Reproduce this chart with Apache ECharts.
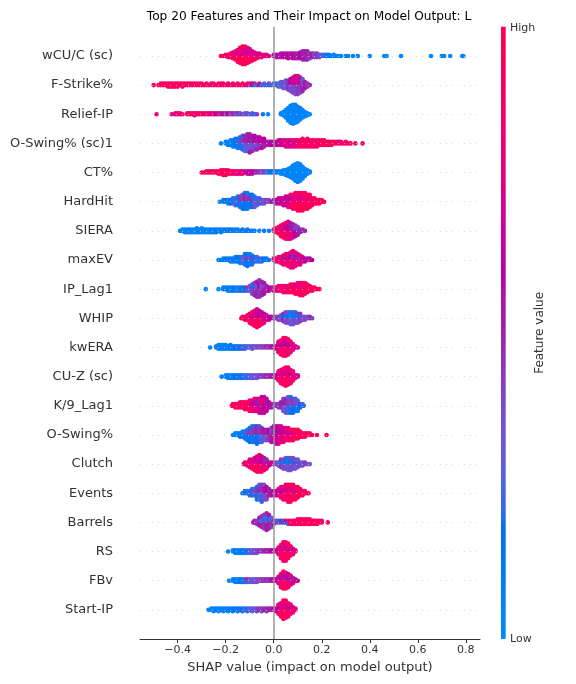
<!DOCTYPE html>
<html><head><meta charset="utf-8">
<script src="https://cdn.jsdelivr.net/npm/echarts@6/dist/echarts.min.js"></script>
<style>html,body{margin:0;padding:0;background:#fff}#c{width:576px;height:684px}</style>
</head><body><div id="c"></div>
<script>
// ---------- DATA ----------
const chartTitle = 'Top 20 Features and Their Impact on Model Output: L';
const featureNames = ['wCU/C (sc)','F-Strike%','Relief-IP','O-Swing% (sc)1','CT%','HardHit','SIERA','maxEV','IP_Lag1','WHIP','kwERA','CU-Z (sc)','K/9_Lag1','O-Swing%','Clutch','Events','Barrels','RS','FBv','Start-IP'];
const xTicks = [-0.4,-0.2,0,0.2,0.4,0.6,0.8];
// each entry: [SHAP value, number of samples, feature value (0 = low, 1 = high)]
const wcucSc = [[-0.22,1,0.9],[-0.21,1,0.95],[-0.20,2,0.9],[-0.19,3,0.85],[-0.18,4,0.95],[-0.17,3,0.97],[-0.17,3,0.75],[-0.16,4,0.97],[-0.16,4,0.8],[-0.15,6,0.97],[-0.15,5,0.75],[-0.14,8,0.97],[-0.14,6,0.8],[-0.13,9,0.97],[-0.13,7,0.75],[-0.12,9,0.95],[-0.12,7,0.7],[-0.11,7,0.97],[-0.11,7,0.75],[-0.10,6,0.9],[-0.10,6,0.7],[-0.09,5,0.95],[-0.09,4,0.7],[-0.08,4,0.9],[-0.08,3,0.7],[-0.07,3,0.85],[-0.07,2,0.65],[-0.06,2,0.9],[-0.06,2,0.7],[-0.05,3,0.8],[-0.04,2,0.75],[-0.03,2,0.8],[-0.02,1,0.7],
 [0.00,2,0.6],[0.01,3,0.55],[0.02,3,0.65],[0.03,4,0.5],[0.04,4,0.6],[0.05,4,0.55],[0.06,5,0.6],[0.07,4,0.5],[0.08,5,0.65],[0.09,5,0.55],[0.10,5,0.5],[0.11,6,0.6],[0.12,6,0.5],[0.12,2,0.7],[0.13,6,0.55],[0.13,2,0.4],[0.14,6,0.5],[0.14,2,0.7],[0.15,5,0.45],[0.16,4,0.5],[0.17,4,0.4],[0.18,4,0.45],[0.19,3,0.35],[0.20,2,0.3],[0.21,2,0.25],[0.22,2,0.15],[0.23,2,0.1],[0.24,1,0.1],[0.25,2,0.05],[0.26,1,0.05],[0.27,1,0.05],[0.28,1,0.05],[0.30,1,0.05],[0.31,1,0.05],[0.33,1,0.05],[0.35,1,0.05],[0.40,1,0.03],[0.46,1,0.03],[0.47,1,0.03],[0.53,1,0.03],[0.655,1,0.02],[0.70,1,0.02],[0.71,1,0.02],[0.735,1,0.02],[0.785,1,0.02],[0.79,1,0.02]];
const fStrike = [[-0.50,1,0.95],[-0.48,1,0.95],[-0.47,2,0.95],[-0.46,2,0.9],[-0.45,2,0.97],[-0.44,3,0.95],[-0.43,3,0.9],[-0.42,3,0.97],[-0.41,3,0.9],[-0.40,3,0.95],[-0.39,2,0.95],[-0.38,3,0.9],[-0.37,2,0.95],[-0.36,2,0.9],[-0.35,2,0.95],[-0.34,2,0.9],[-0.33,2,0.95],[-0.32,2,0.9],[-0.31,2,0.95],[-0.30,2,0.85],[-0.29,1,0.9],[-0.28,2,0.95],[-0.27,1,0.9],[-0.26,2,0.85],[-0.25,2,0.95],[-0.24,1,0.9],[-0.23,2,0.95],[-0.22,2,0.85],[-0.21,2,0.9],[-0.20,1,0.95],[-0.19,2,0.85],[-0.18,1,0.9],[-0.17,2,0.95],[-0.16,1,0.8],[-0.15,2,0.9],[-0.14,1,0.85],[-0.13,2,0.9],[-0.12,1,0.8],[-0.11,2,0.85],[-0.10,1,0.1],[-0.10,1,0.9],[-0.09,2,0.7],[-0.08,1,0.1],[-0.08,1,0.5],[-0.07,1,0.2],[-0.06,2,0.8],[-0.05,1,0.15],[-0.04,2,0.3],[-0.03,1,0.1],[-0.02,2,0.4],[-0.01,1,0.2],
 [0.00,2,0.3],[0.01,2,0.2],[0.02,3,0.3],[0.03,4,0.25],[0.04,5,0.35],[0.05,6,0.3],[0.06,7,0.45],[0.07,5,0.35],[0.07,4,0.6],[0.08,6,0.4],[0.08,5,0.7],[0.09,7,0.35],[0.09,6,0.6],[0.10,7,0.45],[0.10,6,0.75],[0.11,6,0.4],[0.11,5,0.65],[0.12,5,0.5],[0.12,4,0.3],[0.13,5,0.55],[0.14,3,0.45],[0.15,1,0.5]];
const reliefIP = [[-0.488,1,0.75],[-0.425,1,0.8],[-0.41,2,0.7],[-0.40,2,0.9],[-0.39,2,0.75],[-0.38,1,0.95],[-0.36,2,0.9],[-0.35,2,0.85],[-0.34,2,0.95],[-0.33,3,0.8],[-0.32,2,0.9],[-0.31,2,0.85],[-0.30,2,0.95],[-0.29,2,0.75],[-0.28,2,0.9],[-0.27,2,0.8],[-0.26,2,0.7],[-0.25,2,0.85],[-0.24,2,0.6],[-0.23,2,0.75],[-0.22,2,0.5],[-0.21,2,0.65],[-0.20,2,0.45],[-0.19,2,0.6],[-0.18,2,0.4],[-0.17,2,0.55],[-0.16,2,0.35],[-0.15,2,0.5],[-0.14,2,0.3],[-0.13,1,0.45],[-0.12,2,0.25],[-0.11,2,0.4],[-0.10,1,0.2],[-0.09,2,0.35],[-0.08,1,0.15],[-0.07,1,0.45],[-0.045,1,0.1],[-0.024,1,0.05],
 [0.03,2,0.05],[0.04,4,0.05],[0.05,8,0.03],[0.06,13,0.05],[0.07,17,0.03],[0.08,19,0.04],[0.09,18,0.03],[0.10,15,0.05],[0.11,12,0.04],[0.12,8,0.03],[0.13,5,0.05],[0.14,3,0.04],[0.15,1,0.05]];
const oSwingSc1 = [[-0.22,1,0.05],[-0.20,2,0.05],[-0.19,3,0.1],[-0.18,4,0.05],[-0.17,5,0.1],[-0.16,6,0.15],[-0.15,7,0.1],[-0.14,5,0.2],[-0.14,3,0.4],[-0.13,6,0.2],[-0.13,4,0.45],[-0.12,6,0.25],[-0.12,5,0.5],[-0.11,6,0.3],[-0.11,6,0.5],[-0.10,6,0.35],[-0.10,7,0.55],[-0.09,5,0.3],[-0.09,6,0.5],[-0.08,5,0.4],[-0.08,5,0.6],[-0.07,4,0.35],[-0.07,5,0.55],[-0.06,4,0.45],[-0.06,4,0.6],[-0.05,3,0.4],[-0.05,4,0.65],[-0.04,3,0.5],[-0.04,3,0.6],[-0.03,3,0.55],[-0.02,3,0.5],[-0.01,3,0.6],
 [0.00,3,0.6],[0.01,3,0.65],[0.02,4,0.7],[0.03,4,0.6],[0.04,4,0.75],[0.05,5,0.7],[0.06,5,0.8],[0.07,5,0.65],[0.08,5,0.85],[0.09,5,0.75],[0.10,5,0.9],[0.11,5,0.8],[0.12,6,0.95],[0.13,5,0.85],[0.14,6,0.95],[0.15,5,0.8],[0.16,5,0.95],[0.17,5,0.9],[0.18,5,0.97],[0.19,4,0.85],[0.20,4,0.95],[0.21,4,0.9],[0.22,3,0.97],[0.23,3,0.85],[0.24,3,0.95],[0.25,2,0.9],[0.26,2,0.95],[0.27,2,0.8],[0.28,2,0.95],[0.29,1,0.9],[0.30,2,0.95],[0.31,1,0.85],[0.32,1,0.95],[0.34,1,0.9],[0.37,1,0.95]];
const ctPct = [[-0.30,1,0.95],[-0.29,1,0.9],[-0.28,2,0.95],[-0.27,2,0.97],[-0.26,2,0.9],[-0.25,2,0.95],[-0.24,2,0.97],[-0.23,3,0.9],[-0.22,4,0.97],[-0.21,5,0.95],[-0.20,5,0.97],[-0.19,4,0.9],[-0.18,3,0.95],[-0.17,3,0.85],[-0.16,3,0.9],[-0.15,3,0.8],[-0.14,3,0.75],[-0.13,3,0.85],[-0.12,2,0.65],[-0.11,3,0.7],[-0.10,3,0.6],[-0.09,3,0.55],[-0.08,2,0.65],[-0.07,2,0.5],[-0.06,2,0.45],[-0.05,2,0.35],[-0.04,2,0.4],[-0.03,2,0.25],[-0.02,2,0.2],[-0.01,2,0.15],[0.00,2,0.1],[0.01,2,0.05],[0.02,2,0.05],
 [0.03,3,0.03],[0.04,4,0.05],[0.05,5,0.03],[0.06,7,0.05],[0.07,9,0.03],[0.08,12,0.04],[0.09,15,0.03],[0.10,17,0.05],[0.11,15,0.03],[0.12,11,0.04],[0.13,7,0.05],[0.14,4,0.03],[0.15,2,0.05]];
const hardHit = [[-0.225,1,0.05],[-0.21,2,0.1],[-0.20,2,0.2],[-0.19,3,0.05],[-0.18,3,0.15],[-0.17,4,0.1],[-0.16,5,0.3],[-0.15,6,0.1],[-0.14,4,0.2],[-0.14,3,0.45],[-0.13,5,0.1],[-0.13,4,0.4],[-0.12,6,0.15],[-0.12,4,0.5],[-0.11,6,0.1],[-0.11,4,0.4],[-0.10,5,0.2],[-0.10,3,0.5],[-0.09,5,0.15],[-0.09,3,0.45],[-0.08,4,0.3],[-0.08,3,0.1],[-0.07,5,0.35],[-0.06,4,0.2],[-0.05,3,0.4],[-0.04,3,0.3],[-0.03,2,0.45],[-0.02,2,0.35],[-0.01,1,0.5],
 [0.00,2,0.6],[0.01,3,0.55],[0.02,4,0.65],[0.03,4,0.6],[0.04,5,0.7],[0.05,4,0.6],[0.05,2,0.8],[0.06,5,0.75],[0.06,2,0.55],[0.07,5,0.85],[0.07,3,0.65],[0.08,6,0.9],[0.08,3,0.7],[0.09,6,0.95],[0.09,4,0.75],[0.10,7,0.95],[0.10,4,0.8],[0.11,7,0.97],[0.11,4,0.75],[0.12,7,0.95],[0.12,4,0.8],[0.13,6,0.97],[0.13,4,0.85],[0.14,6,0.95],[0.14,3,0.8],[0.15,5,0.97],[0.15,3,0.85],[0.16,5,0.95],[0.17,4,0.97],[0.18,3,0.9],[0.19,3,0.97],[0.20,2,0.95],[0.21,1,0.97]];
const siera = [[-0.39,1,0.05],[-0.38,2,0.05],[-0.37,3,0.03],[-0.36,3,0.05],[-0.35,3,0.1],[-0.34,3,0.05],[-0.33,3,0.03],[-0.32,4,0.05],[-0.31,3,0.1],[-0.30,4,0.05],[-0.29,3,0.03],[-0.28,3,0.08],[-0.27,3,0.05],[-0.26,3,0.1],[-0.25,3,0.05],[-0.24,3,0.15],[-0.23,2,0.05],[-0.22,3,0.1],[-0.21,2,0.05],[-0.20,2,0.15],[-0.19,2,0.05],[-0.18,2,0.1],[-0.17,2,0.2],[-0.16,2,0.05],[-0.15,2,0.1],[-0.14,1,0.05],[-0.13,2,0.15],[-0.12,1,0.05],[-0.11,2,0.1],[-0.10,1,0.2],[-0.09,1,0.05],[-0.08,1,0.1],[-0.06,1,0.05],[-0.04,1,0.1],[-0.02,1,0.05],
 [0.00,2,0.9],[0.01,4,0.95],[0.02,6,0.9],[0.03,6,0.97],[0.03,3,0.7],[0.04,7,0.95],[0.04,4,0.75],[0.05,8,0.9],[0.05,5,0.65],[0.06,8,0.85],[0.06,6,0.6],[0.07,7,0.8],[0.07,6,0.55],[0.08,6,0.75],[0.08,5,0.5],[0.09,5,0.6],[0.09,4,0.45],[0.10,4,0.55],[0.10,3,0.4],[0.11,3,0.5],[0.12,2,0.45],[0.13,1,0.5]];
const maxEV = [[-0.23,1,0.05],[-0.22,1,0.1],[-0.21,2,0.05],[-0.20,2,0.15],[-0.19,2,0.05],[-0.18,3,0.1],[-0.17,3,0.2],[-0.16,4,0.05],[-0.15,4,0.15],[-0.14,5,0.1],[-0.13,5,0.3],[-0.12,6,0.1],[-0.12,2,0.4],[-0.11,6,0.15],[-0.11,3,0.45],[-0.10,5,0.1],[-0.10,3,0.35],[-0.09,5,0.2],[-0.09,2,0.45],[-0.08,4,0.15],[-0.07,4,0.3],[-0.06,3,0.1],[-0.05,3,0.2],[-0.04,2,0.15],[-0.03,2,0.1],[-0.02,1,0.2],
 [0.00,2,0.7],[0.01,3,0.9],[0.02,4,0.8],[0.03,5,0.95],[0.04,5,0.75],[0.04,2,0.5],[0.05,6,0.9],[0.05,2,0.6],[0.06,6,0.85],[0.06,3,0.55],[0.07,7,0.9],[0.07,4,0.6],[0.08,7,0.8],[0.08,5,0.5],[0.09,6,0.9],[0.09,4,0.55],[0.10,5,0.75],[0.10,3,0.5],[0.11,5,0.8],[0.11,2,0.45],[0.12,4,0.7],[0.13,3,0.6],[0.14,2,0.55],[0.15,2,0.65],[0.16,1,0.6]];
const ipLag1 = [[-0.283,1,0.05],[-0.23,1,0.05],[-0.21,2,0.1],[-0.20,2,0.05],[-0.19,3,0.1],[-0.18,3,0.05],[-0.17,3,0.15],[-0.16,3,0.1],[-0.15,3,0.05],[-0.14,3,0.2],[-0.13,3,0.1],[-0.12,3,0.15],[-0.11,2,0.25],[-0.11,1,0.95],[-0.10,4,0.3],[-0.09,5,0.35],[-0.09,2,0.15],[-0.08,6,0.45],[-0.08,3,0.2],[-0.07,7,0.5],[-0.07,4,0.3],[-0.06,7,0.45],[-0.06,5,0.6],[-0.05,6,0.5],[-0.05,4,0.35],[-0.04,5,0.55],[-0.04,3,0.4],[-0.03,4,0.5],[-0.02,3,0.6],[-0.01,2,0.55],
 [0.00,3,0.7],[0.01,3,0.8],[0.02,4,0.75],[0.03,4,0.9],[0.04,5,0.85],[0.05,5,0.95],[0.06,5,0.8],[0.07,6,0.95],[0.08,6,0.9],[0.09,4,0.97],[0.09,3,0.75],[0.10,5,0.95],[0.10,3,0.8],[0.11,5,0.97],[0.11,4,0.85],[0.12,5,0.95],[0.12,4,0.8],[0.13,5,0.97],[0.13,3,0.85],[0.14,4,0.95],[0.14,2,0.8],[0.15,4,0.97],[0.16,3,0.9],[0.17,2,0.95],[0.18,1,0.9],[0.19,1,0.97]];
const whip = [[-0.135,1,0.9],[-0.13,2,0.95],[-0.12,3,0.8],[-0.11,4,0.95],[-0.10,5,0.9],[-0.10,2,0.7],[-0.09,6,0.97],[-0.09,3,0.7],[-0.08,7,0.9],[-0.08,4,0.65],[-0.07,7,0.95],[-0.07,6,0.7],[-0.06,6,0.9],[-0.06,5,0.6],[-0.05,5,0.95],[-0.05,4,0.65],[-0.04,4,0.85],[-0.04,3,0.6],[-0.03,4,0.7],[-0.02,3,0.65],[-0.01,2,0.6],
 [0.00,2,0.5],[0.01,2,0.4],[0.02,3,0.45],[0.03,4,0.3],[0.04,4,0.5],[0.04,2,0.15],[0.05,5,0.35],[0.05,3,0.1],[0.06,5,0.4],[0.06,3,0.15],[0.07,5,0.3],[0.07,4,0.05],[0.08,5,0.35],[0.08,4,0.1],[0.09,5,0.4],[0.09,3,0.1],[0.10,4,0.3],[0.10,3,0.15],[0.11,4,0.45],[0.11,2,0.1],[0.12,3,0.35],[0.13,3,0.4],[0.14,2,0.3],[0.15,2,0.5],[0.16,1,0.4]];
const kwERA = [[-0.265,1,0.05],[-0.24,2,0.05],[-0.23,4,0.05],[-0.22,4,0.1],[-0.21,4,0.05],[-0.20,4,0.1],[-0.19,3,0.05],[-0.18,4,0.15],[-0.17,3,0.1],[-0.16,3,0.15],[-0.15,3,0.2],[-0.14,3,0.15],[-0.13,3,0.25],[-0.12,3,0.2],[-0.11,2,0.3],[-0.10,2,0.25],[-0.09,3,0.3],[-0.08,2,0.35],[-0.07,2,0.4],[-0.06,2,0.35],[-0.05,2,0.45],[-0.04,2,0.4],[-0.03,2,0.5],[-0.02,2,0.45],[-0.01,2,0.55],[0.00,2,0.6],
 [0.01,3,0.7],[0.02,6,0.8],[0.02,4,0.6],[0.03,8,0.9],[0.03,5,0.65],[0.04,9,0.95],[0.04,7,0.7],[0.05,9,0.9],[0.05,7,0.6],[0.06,8,0.85],[0.06,6,0.65],[0.07,6,0.9],[0.07,4,0.6],[0.08,4,0.8],[0.08,2,0.55],[0.09,2,0.75],[0.10,1,0.7]];
const cuZSc = [[-0.217,1,0.05],[-0.20,2,0.05],[-0.19,3,0.1],[-0.18,3,0.05],[-0.17,3,0.1],[-0.16,3,0.15],[-0.15,3,0.1],[-0.14,3,0.2],[-0.13,3,0.15],[-0.12,3,0.25],[-0.11,3,0.2],[-0.10,3,0.3],[-0.09,3,0.25],[-0.08,3,0.35],[-0.07,3,0.3],[-0.06,2,0.4],[-0.05,2,0.45],[-0.04,2,0.4],[-0.03,2,0.5],[-0.02,2,0.45],[-0.01,2,0.55],[0.00,2,0.5],
 [0.01,3,0.7],[0.02,5,0.8],[0.02,3,0.6],[0.03,7,0.9],[0.03,4,0.7],[0.04,8,0.95],[0.04,5,0.75],[0.05,9,0.9],[0.05,6,0.7],[0.06,8,0.95],[0.06,6,0.75],[0.07,7,0.85],[0.07,4,0.65],[0.08,5,0.9],[0.08,3,0.7],[0.09,3,0.8],[0.10,2,0.75]];
const k9Lag1 = [[-0.175,1,0.95],[-0.17,2,0.97],[-0.16,3,0.9],[-0.15,3,0.97],[-0.14,4,0.95],[-0.13,4,0.9],[-0.12,5,0.97],[-0.11,5,0.9],[-0.10,5,0.95],[-0.10,2,0.75],[-0.09,5,0.85],[-0.09,2,0.65],[-0.08,5,0.8],[-0.08,3,0.6],[-0.07,5,0.75],[-0.07,3,0.55],[-0.06,6,0.7],[-0.06,3,0.5],[-0.05,6,0.65],[-0.05,4,0.8],[-0.04,6,0.6],[-0.04,4,0.75],[-0.03,5,0.65],[-0.03,3,0.5],[-0.02,4,0.6],[-0.01,3,0.55],[0.00,2,0.5],
 [0.01,2,0.45],[0.02,3,0.4],[0.03,4,0.5],[0.04,5,0.35],[0.04,3,0.55],[0.05,5,0.3],[0.05,4,0.5],[0.06,6,0.25],[0.06,4,0.45],[0.07,6,0.2],[0.07,4,0.4],[0.08,5,0.15],[0.08,4,0.45],[0.09,5,0.2],[0.09,3,0.4],[0.10,4,0.1],[0.10,3,0.35],[0.11,3,0.15],[0.12,2,0.3],[0.125,1,0.2]];
const oSwing = [[-0.17,1,0.05],[-0.16,2,0.1],[-0.15,2,0.05],[-0.14,3,0.15],[-0.13,4,0.1],[-0.12,5,0.2],[-0.11,5,0.1],[-0.11,2,0.4],[-0.10,6,0.15],[-0.10,3,0.45],[-0.09,6,0.1],[-0.09,4,0.4],[-0.08,6,0.2],[-0.08,4,0.45],[-0.07,6,0.15],[-0.07,5,0.5],[-0.06,6,0.2],[-0.06,4,0.45],[-0.05,5,0.25],[-0.05,4,0.5],[-0.04,4,0.3],[-0.04,3,0.55],[-0.03,4,0.35],[-0.03,3,0.5],[-0.02,4,0.45],[-0.02,3,0.6],[-0.01,5,0.55],[-0.01,4,0.4],
 [0.00,6,0.6],[0.00,4,0.5],[0.01,6,0.65],[0.01,5,0.55],[0.02,6,0.7],[0.02,5,0.6],[0.03,6,0.75],[0.03,4,0.6],[0.04,5,0.8],[0.04,4,0.65],[0.05,5,0.85],[0.05,3,0.7],[0.06,5,0.8],[0.06,3,0.65],[0.07,5,0.9],[0.07,2,0.7],[0.08,5,0.95],[0.08,2,0.75],[0.09,4,0.95],[0.09,2,0.8],[0.10,4,0.97],[0.10,2,0.8],[0.11,4,0.95],[0.12,3,0.97],[0.13,3,0.9],[0.14,2,0.95],[0.15,2,0.97],[0.16,1,0.9],[0.18,1,0.97],[0.22,1,0.97]];
const clutch = [[-0.125,1,0.7],[-0.12,2,0.8],[-0.11,3,0.95],[-0.10,4,0.7],[-0.10,2,0.9],[-0.09,4,0.95],[-0.09,3,0.75],[-0.08,5,0.97],[-0.08,4,0.7],[-0.07,6,0.9],[-0.07,5,0.65],[-0.06,7,0.95],[-0.06,5,0.7],[-0.05,6,0.9],[-0.05,5,0.6],[-0.04,5,0.85],[-0.04,4,0.55],[-0.03,4,0.8],[-0.03,3,0.5],[-0.02,3,0.7],[-0.01,2,0.6],[0.00,2,0.55],
 [0.01,2,0.4],[0.02,3,0.3],[0.03,4,0.45],[0.03,2,0.2],[0.04,5,0.35],[0.04,2,0.1],[0.05,5,0.4],[0.05,3,0.15],[0.06,5,0.3],[0.06,4,0.1],[0.07,6,0.35],[0.07,3,0.15],[0.08,5,0.4],[0.08,3,0.1],[0.09,5,0.3],[0.09,2,0.5],[0.10,4,0.35],[0.10,2,0.15],[0.11,3,0.4],[0.12,3,0.3],[0.13,2,0.45],[0.14,1,0.35],[0.15,1,0.3]];
const events = [[-0.13,1,0.1],[-0.12,2,0.15],[-0.11,2,0.3],[-0.10,3,0.1],[-0.09,4,0.2],[-0.08,4,0.35],[-0.07,5,0.15],[-0.07,2,0.45],[-0.06,5,0.3],[-0.06,3,0.5],[-0.05,5,0.2],[-0.05,4,0.45],[-0.04,5,0.35],[-0.04,3,0.55],[-0.03,4,0.4],[-0.03,3,0.6],[-0.02,4,0.5],[-0.01,3,0.55],[0.00,3,0.6],
 [0.01,3,0.65],[0.02,4,0.7],[0.03,4,0.8],[0.03,2,0.6],[0.04,5,0.9],[0.04,2,0.65],[0.05,5,0.95],[0.05,3,0.7],[0.06,6,0.9],[0.06,3,0.75],[0.07,6,0.97],[0.07,3,0.8],[0.08,5,0.95],[0.08,3,0.75],[0.09,5,0.9],[0.09,2,0.7],[0.10,4,0.97],[0.10,2,0.8],[0.11,4,0.95],[0.12,3,0.9],[0.13,2,0.97],[0.14,1,0.9],[0.145,1,0.95]];
const barrels = [[-0.085,1,0.6],[-0.08,2,0.5],[-0.07,3,0.45],[-0.06,4,0.55],[-0.06,2,0.3],[-0.05,5,0.5],[-0.05,3,0.25],[-0.04,6,0.45],[-0.04,4,0.2],[-0.03,7,0.5],[-0.03,5,0.3],[-0.02,6,0.55],[-0.02,4,0.2],[-0.01,4,0.45],[-0.01,3,0.3],[0.00,3,0.5],
 [0.01,2,0.4],[0.02,2,0.2],[0.03,2,0.5],[0.04,2,0.15],[0.05,2,0.7],[0.06,2,0.2],[0.06,1,0.8],[0.07,3,0.9],[0.08,3,0.95],[0.09,3,0.85],[0.10,4,0.97],[0.11,4,0.9],[0.12,4,0.97],[0.13,4,0.95],[0.14,4,0.9],[0.15,4,0.97],[0.16,3,0.95],[0.17,3,0.9],[0.18,3,0.97],[0.19,2,0.95],[0.20,2,0.9],[0.225,1,0.97]];
const rs = [[-0.19,1,0.05],[-0.17,2,0.05],[-0.16,3,0.1],[-0.15,3,0.05],[-0.14,3,0.1],[-0.13,3,0.15],[-0.12,3,0.1],[-0.11,3,0.2],[-0.10,3,0.25],[-0.09,3,0.3],[-0.08,3,0.35],[-0.07,3,0.4],[-0.06,2,0.45],[-0.05,2,0.4],[-0.04,2,0.5],[-0.03,2,0.55],[-0.02,2,0.5],[-0.01,2,0.6],[0.00,2,0.55],[0.01,2,0.7],
 [0.02,4,0.8],[0.02,2,0.6],[0.03,7,0.9],[0.03,4,0.7],[0.04,9,0.95],[0.04,6,0.75],[0.05,9,0.9],[0.05,6,0.7],[0.06,7,0.95],[0.06,5,0.75],[0.07,5,0.9],[0.07,3,0.7],[0.08,3,0.85],[0.08,2,0.65],[0.09,2,0.8]];
const fbv = [[-0.186,1,0.05],[-0.17,2,0.05],[-0.16,3,0.1],[-0.15,3,0.05],[-0.14,3,0.15],[-0.13,3,0.1],[-0.12,3,0.2],[-0.11,2,0.25],[-0.11,1,0.95],[-0.10,3,0.3],[-0.09,3,0.35],[-0.08,3,0.3],[-0.07,3,0.4],[-0.06,2,0.35],[-0.05,2,0.45],[-0.045,1,0.95],[-0.04,2,0.4],[-0.03,2,0.5],[-0.02,2,0.45],[-0.01,2,0.55],[0.00,2,0.6],[0.01,2,0.65],
 [0.02,4,0.75],[0.02,2,0.5],[0.03,7,0.85],[0.03,4,0.6],[0.04,8,0.9],[0.04,6,0.55],[0.05,8,0.95],[0.05,5,0.65],[0.06,6,0.85],[0.06,5,0.6],[0.07,5,0.8],[0.07,3,0.55],[0.08,3,0.75],[0.08,2,0.5],[0.09,2,0.7],[0.10,1,0.6]];
const startIP = [[-0.272,1,0.05],[-0.26,2,0.05],[-0.25,3,0.05],[-0.24,2,0.1],[-0.23,3,0.05],[-0.22,2,0.1],[-0.21,3,0.05],[-0.20,2,0.1],[-0.19,3,0.05],[-0.18,2,0.15],[-0.17,3,0.1],[-0.16,2,0.15],[-0.15,3,0.1],[-0.14,2,0.2],[-0.13,3,0.15],[-0.12,2,0.25],[-0.11,3,0.2],[-0.10,2,0.3],[-0.09,3,0.25],[-0.08,2,0.35],[-0.07,3,0.4],[-0.06,2,0.45],[-0.05,3,0.4],[-0.04,2,0.5],[-0.03,3,0.45],[-0.02,2,0.55],[-0.01,2,0.5],[0.00,2,0.6],
 [0.01,3,0.7],[0.02,5,0.8],[0.02,3,0.6],[0.03,7,0.9],[0.03,4,0.7],[0.04,9,0.95],[0.04,6,0.75],[0.05,8,0.9],[0.05,6,0.7],[0.06,7,0.95],[0.06,4,0.75],[0.07,5,0.85],[0.07,3,0.65],[0.08,3,0.9],[0.08,2,0.7],[0.09,2,0.8]];
const featureData = [wcucSc,fStrike,reliefIP,oSwingSc1,ctPct,hardHit,siera,maxEV,ipLag1,whip,kwERA,cuZSc,k9Lag1,oSwing,clutch,events,barrels,rs,fbv,startIP];

// ---------- COLORMAP (shap red_blue, built in LCH) ----------
function lch2hex(L, C, H) {
  const a = C * Math.cos(H), b = C * Math.sin(H);
  const fy = (L + 16) / 116, fx = fy + a / 500, fz = fy - b / 200;
  const finv = t => t > 6/29 ? t*t*t : 3*(6/29)*(6/29)*(t - 4/29);
  const X = 0.95047 * finv(fx), Y = finv(fy), Z = 1.08883 * finv(fz);
  const lin = [3.2404542*X - 1.5371385*Y - 0.4985314*Z, -0.9692660*X + 1.8760108*Y + 0.0415560*Z, 0.0556434*X - 0.2040259*Y + 1.0572252*Z];
  return '#' + lin.map(c => {
    let v = c > 0.0031308 ? 1.055*Math.pow(c, 1/2.4) - 0.055 : 12.92*c;
    v = Math.max(0, Math.min(1, v));
    return Math.round(v*255).toString(16).padStart(2, '0');
  }).join('');
}
const cmap = [];
(function(){
  const n = 100, bl = [54, 70, 4.6588], rd = [54, 90, 0.35470565 + 2*Math.PI], lMid = 40;
  for (let i = 0; i < n; i++) {
    const t = i/(n-1);
    const half = n/2;
    const L = i < half ? bl[0] + (lMid - bl[0]) * (i/(half-1)) : lMid + (rd[0] - lMid) * ((i-half)/(half-1));
    cmap.push(lch2hex(L, bl[1] + (rd[1]-bl[1])*t, bl[2] + (rd[2]-bl[2])*t));
  }
})();

// ---------- BEESWARM LAYOUT (shap style: stack points of a bin alternately up/down) ----------
const ROW_HEIGHT = 0.4;
const points = [];
featureData.forEach((groups, i) => {
  const row = featureNames.length - 1 - i;
  const bins = new Map();
  groups.forEach(g => { if (!bins.has(g[0])) bins.set(g[0], []); bins.get(g[0]).push(g); });
  const tmp = []; let maxYs = 0;
  bins.forEach((gs, s) => {
    const rem = gs.map(g => g[1]); let left = rem.reduce((p, q) => p + q, 0);
    const order = [];
    while (left > 0) gs.forEach((g, j) => { if (rem[j] > 0) { order.push(g[2]); rem[j]--; left--; } });
    order.forEach((fv, layer) => {
      const ys = Math.ceil(layer/2) * ((layer % 2) * 2 - 1);
      if (ys > maxYs) maxYs = ys;
      tmp.push([s, ys, fv]);
    });
  });
  const sc = 0.9 * ROW_HEIGHT / (maxYs + 1);
  tmp.forEach(p => points.push([p[0], row + p[1]*sc, p[2]]));
});

// ---------- CHART ----------
const FONT = '"DejaVu Sans", sans-serif';
const chart = echarts.init(document.getElementById('c'), null, {renderer: 'canvas'});
const gridTop = 26.8, gridBottom = 45, gridH = 684 - gridTop - gridBottom;
const gradStops = cmap.map((c, i) => ({offset: 1 - i/(cmap.length-1), color: c})).reverse();
const rowLines = featureNames.map((n, i) => ({yAxis: i, lineStyle: {color: '#cccccc', width: 0.7, type: [1, 5]}}));
chart.setOption({
  animation: false,
  backgroundColor: '#ffffff',
  grid: {left: 140, right: 96, top: gridTop, bottom: gridBottom},
  xAxis: {type: 'value', min: -0.557, max: 0.859,
    axisLine: {show: true, onZero: false, lineStyle: {color: '#333333', width: 1}},
    axisTick: {show: true, length: 4, customValues: xTicks, lineStyle: {color: '#333333'}},
    axisLabel: {customValues: xTicks, margin: 6, fontFamily: FONT, fontSize: 11, color: '#333333',
      formatter: v => (v < -1e-9 ? '\u2212' : '') + Math.abs(v).toFixed(1)},
    splitLine: {show: false},
    name: 'SHAP value (impact on model output)', nameLocation: 'middle', nameGap: 20,
    nameTextStyle: {fontFamily: FONT, fontSize: 13, color: '#333333', verticalAlign: 'top'}},
  yAxis: {type: 'value', min: -1, max: 20, interval: 1,
    axisLine: {show: false}, axisTick: {show: false}, splitLine: {show: false},
    axisLabel: {margin: 27, fontFamily: FONT, fontSize: 13, color: '#333333',
      formatter: v => (v >= 0 && v < featureNames.length) ? featureNames[featureNames.length - 1 - v] : ''}},
  visualMap: {show: false, type: 'continuous', min: 0, max: 1, dimension: 2, seriesIndex: 0,
    inRange: {color: cmap}},
  series: [
    {type: 'scatter', data: points, symbolSize: 4.6, z: 3, silent: true,
      itemStyle: {opacity: 1, borderWidth: 0}},
    {type: 'scatter', data: [], z: 1, silent: true,
      markLine: {silent: true, symbol: 'none', label: {show: false}, animation: false,
        data: rowLines}},
    {type: 'scatter', data: [], z: 2, silent: true,
      markLine: {silent: true, symbol: 'none', label: {show: false}, animation: false,
        lineStyle: {color: '#999999', width: 1.5, type: 'solid'},
        data: [{xAxis: 0}]}}
  ],
  graphic: [
    {type: 'text', x: 309, y: 17, silent: true,
      style: {text: chartTitle, fontFamily: FONT, fontSize: 12.2, fill: '#000000', align: 'center', verticalAlign: 'middle'}},
    {type: 'rect', x: 501, y: gridTop, shape: {width: 4.7, height: gridH}, silent: true,
      style: {fill: new echarts.graphic.LinearGradient(0, 0, 0, 1, gradStops)}},
    {type: 'text', x: 510, y: gridTop + 1, silent: true,
      style: {text: 'High', fontFamily: FONT, fontSize: 11, fill: '#333333', align: 'left', verticalAlign: 'middle'}},
    {type: 'text', x: 510, y: gridTop + gridH, silent: true,
      style: {text: 'Low', fontFamily: FONT, fontSize: 11, fill: '#333333', align: 'left', verticalAlign: 'middle'}},
    {type: 'text', x: 540, y: gridTop + gridH/2, rotation: Math.PI/2, silent: true,
      style: {text: 'Feature value', fontFamily: FONT, fontSize: 12, fill: '#333333', align: 'center', verticalAlign: 'middle'}}
  ]
});
</script>
</body></html>
